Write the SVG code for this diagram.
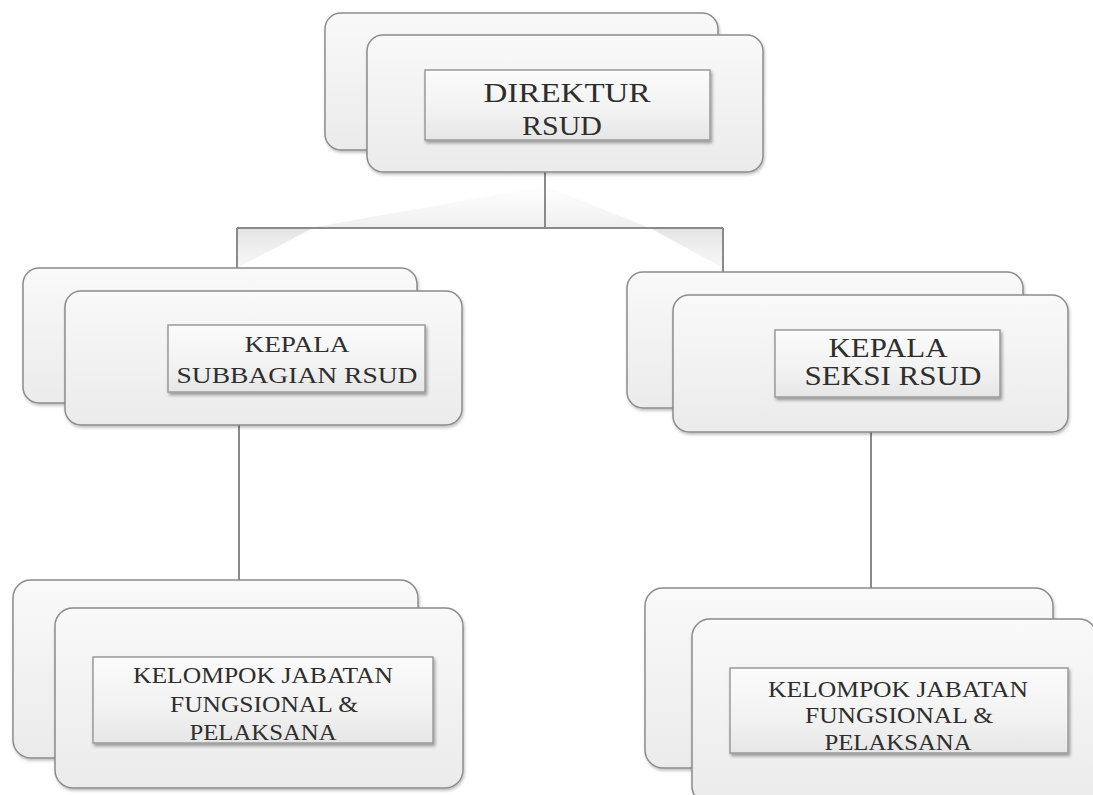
<svg xmlns="http://www.w3.org/2000/svg" width="1093" height="795" viewBox="0 0 1093 795">
  <defs>
    <linearGradient id="cardFill" x1="0" y1="0" x2="0" y2="1">
      <stop offset="0" stop-color="#f9f9f9"/>
      <stop offset="1" stop-color="#ebebeb"/>
    </linearGradient>
    <linearGradient id="labelFill" x1="0" y1="0" x2="0" y2="1">
      <stop offset="0" stop-color="#fbfbfb"/>
      <stop offset="0.6" stop-color="#f2f2f2"/>
      <stop offset="1" stop-color="#e6e6e6"/>
    </linearGradient>
    <linearGradient id="fanFill" x1="0" y1="0" x2="0" y2="1">
      <stop offset="0" stop-color="#e4e4e4" stop-opacity="0.1"/>
      <stop offset="1" stop-color="#d6d6d6" stop-opacity="0.8"/>
    </linearGradient>
    <linearGradient id="wedgeFill" x1="0" y1="0" x2="0" y2="1">
      <stop offset="0" stop-color="#d0d0d0"/>
      <stop offset="1" stop-color="#e6e6e6" stop-opacity="0.5"/>
    </linearGradient>
    <filter id="cardShadow" x="-5%" y="-5%" width="110%" height="115%">
      <feDropShadow dx="1" dy="2" stdDeviation="1.5" flood-color="#000" flood-opacity="0.25"/>
    </filter>
    <filter id="labelShadow" x="-5%" y="-10%" width="110%" height="130%">
      <feDropShadow dx="1.5" dy="2.5" stdDeviation="1.5" flood-color="#000" flood-opacity="0.35"/>
    </filter>
  </defs>
  <style>
    .card { fill: url(#cardFill); stroke: #8c8c8c; stroke-width: 1.5; filter: url(#cardShadow); }
    .label { fill: url(#labelFill); stroke: #9a9a9a; stroke-width: 1.5; filter: url(#labelShadow); }
    .txt { fill: #2e2e2e; text-anchor: middle; }
    .big { font-size: 27px; }
    .small { font-size: 24px; }
    .link { stroke: #8a8a8a; stroke-width: 2; fill: none; }
  </style>

  <rect width="1093" height="795" fill="#ffffff"/>

  <!-- connectors with their soft perspective shading -->
  <g id="connectors">
    <polygon points="310,228 545,186 650,228" fill="url(#fanFill)" opacity="0.5"/>
    <polygon points="237,228 313,228 237,268" fill="url(#wedgeFill)" opacity="0.6"/>
    <polygon points="650,228 723,228 723,268" fill="url(#wedgeFill)" opacity="0.6"/>
    <line class="link" x1="545" y1="172" x2="545" y2="228"/>
    <line class="link" x1="237" y1="228" x2="723" y2="228"/>
    <line class="link" x1="237" y1="228" x2="237" y2="268"/>
    <line class="link" x1="723" y1="228" x2="723" y2="272"/>
    <line class="link" x1="239" y1="425" x2="239" y2="580"/>
    <line class="link" x1="871" y1="432" x2="871" y2="588"/>
  </g>

  <g font-family="Liberation Serif, DejaVu Serif, Times New Roman, Times, serif">
  <!-- Direktur -->
  <g id="node-direktur">
    <rect class="card" x="325" y="13" width="393" height="137" rx="16"/>
    <rect class="card" x="367" y="35" width="396" height="137" rx="16"/>
    <rect class="label" x="425" y="70" width="285" height="70"/>
    <text class="txt big" x="567" y="102" textLength="167" lengthAdjust="spacingAndGlyphs">DIREKTUR</text>
    <text class="txt big" x="562" y="135" textLength="80" lengthAdjust="spacingAndGlyphs">RSUD</text>
  </g>

  <!-- Kepala Subbagian -->
  <g id="node-subbagian">
    <rect class="card" x="23" y="268" width="394" height="135" rx="16"/>
    <rect class="card" x="65" y="291" width="397" height="134" rx="16"/>
    <rect class="label" x="168" y="325" width="257" height="67"/>
    <text class="txt small" x="297" y="352" textLength="105" lengthAdjust="spacingAndGlyphs">KEPALA</text>
    <text class="txt small" x="297" y="383" textLength="241" lengthAdjust="spacingAndGlyphs">SUBBAGIAN RSUD</text>
  </g>

  <!-- Kepala Seksi -->
  <g id="node-seksi">
    <rect class="card" x="627" y="272" width="396" height="136" rx="16"/>
    <rect class="card" x="673" y="295" width="395" height="137" rx="16"/>
    <rect class="label" x="775" y="330" width="225" height="67"/>
    <text class="txt big" x="888" y="357" textLength="119" lengthAdjust="spacingAndGlyphs">KEPALA</text>
    <text class="txt big" x="893" y="385" textLength="177" lengthAdjust="spacingAndGlyphs">SEKSI RSUD</text>
  </g>

  <!-- Kelompok Jabatan (left) -->
  <g id="node-fungsional-left">
    <rect class="card" x="13" y="580" width="405" height="178" rx="18"/>
    <rect class="card" x="55" y="608" width="408" height="180" rx="18"/>
    <rect class="label" x="93" y="657" width="340" height="86"/>
    <text class="txt small" x="263" y="683" textLength="260" lengthAdjust="spacingAndGlyphs">KELOMPOK JABATAN</text>
    <text class="txt small" x="264" y="712" textLength="188" lengthAdjust="spacingAndGlyphs">FUNGSIONAL &amp;</text>
    <text class="txt small" x="263" y="740" textLength="147" lengthAdjust="spacingAndGlyphs">PELAKSANA</text>
  </g>

  <!-- Kelompok Jabatan (right) -->
  <g id="node-fungsional-right">
    <rect class="card" x="645" y="588" width="408" height="180" rx="18"/>
    <rect class="card" x="692" y="619" width="405" height="185" rx="18"/>
    <rect class="label" x="730" y="668" width="338" height="85"/>
    <text class="txt small" x="898" y="697" textLength="260" lengthAdjust="spacingAndGlyphs">KELOMPOK JABATAN</text>
    <text class="txt small" x="899" y="723" textLength="188" lengthAdjust="spacingAndGlyphs">FUNGSIONAL &amp;</text>
    <text class="txt small" x="898" y="750" textLength="147" lengthAdjust="spacingAndGlyphs">PELAKSANA</text>
  </g>
  </g>
</svg>
